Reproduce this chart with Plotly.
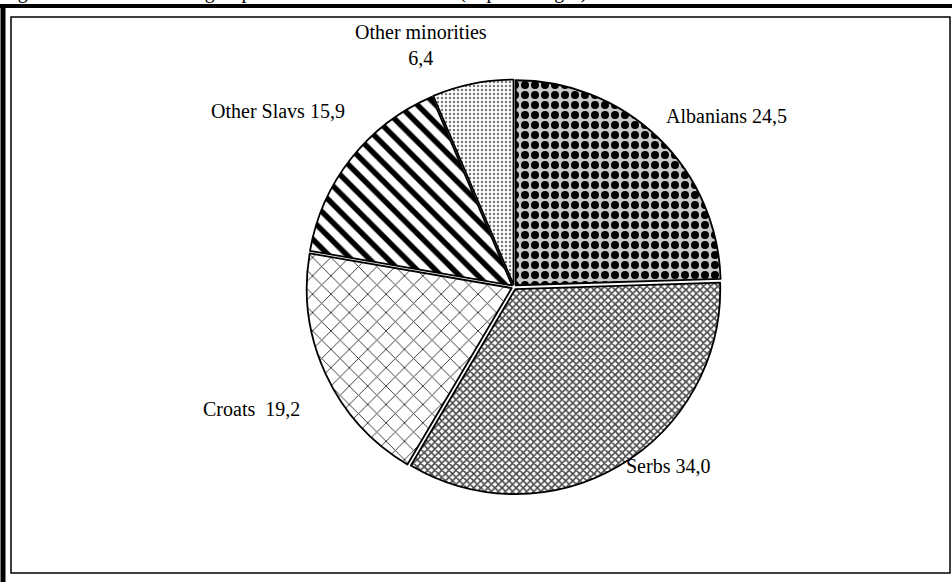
import plotly.graph_objects as go

# ---- data ----
groups = ["Albanians", "Serbs", "Croats", "Other Slavs", "Other minorities"]
shares = [24.5, 34.0, 19.2, 15.9, 6.4]
label_texts = ["Albanians 24,5", "Serbs 34,0", "Croats  19,2", "Other Slavs 15,9", "Other minorities<br>6,4"]
title_text = "Figure 1: Share of ethnic groups in the total resident mix (in percentages)"

# ---- styles ----
pattern_shapes = [".", "x", "x", "\\", "."]
pattern_fg = ["#000000", "#4a4a4a", "#333333", "#000000", "#7a7a7a"]
pattern_bg = ["#c8c8c8", "#ffffff", "#ffffff", "#ffffff", "#ffffff"]
pattern_size = [10, 5, 13, 13, 4]
pattern_solid = [0.5, 0.55, 0.14, 0.42, 0.3]

W, H = 952, 582
cx, cy, r = 514, 287, 205
pull = 0.012
rr = r * (1 + pull)

def px(x):
    return x / W

def py(y):
    return 1 - y / H

fig = go.Figure(go.Pie(
    labels=groups,
    values=shares,
    sort=False,
    direction="clockwise",
    rotation=0,
    pull=[pull] * len(groups),
    textinfo="none",
    hoverinfo="label+value",
    showlegend=False,
    marker=dict(
        colors=pattern_bg,
        line=dict(color="black", width=1.8),
        pattern=dict(shape=pattern_shapes, fgcolor=pattern_fg, bgcolor=pattern_bg,
                     size=pattern_size, solidity=pattern_solid, fillmode="replace"),
    ),
    domain=dict(x=[px(cx - rr), px(cx + rr)], y=[py(cy + rr), py(cy - rr)]),
))

font = dict(family="Liberation Serif, Times New Roman, serif", size=20, color="black")

# label anchor positions (pixels) for each group
label_pos = [(664, 116, "left"), (624, 466, "left"), (302, 409, "right"), (347, 111, "right"), (421, 45, "center")]
anns = []
for t, (x, y, a) in zip(label_texts, label_pos):
    anns.append(dict(x=px(x), y=py(y), xref="paper", yref="paper", text=t, showarrow=False,
                     xanchor=a, yanchor="middle", font=font, align="center"))
anns.append(dict(x=0.0, y=py(4), xref="paper", yref="paper", text=title_text, showarrow=False,
                 xanchor="left", yanchor="bottom", font=font, borderpad=0))

shapes = [
    # outer thick frame lines (top and left)
    dict(type="line", xref="paper", yref="paper", x0=0, x1=1, y0=py(6), y1=py(6),
         line=dict(color="black", width=4)),
    dict(type="line", xref="paper", yref="paper", x0=px(3), x1=px(3), y0=py(4), y1=0,
         line=dict(color="black", width=5)),
    # inner frame
    dict(type="rect", xref="paper", yref="paper", x0=px(11), x1=px(950), y0=py(573), y1=py(17),
         line=dict(color="black", width=1.5)),
]

fig.update_layout(
    width=W, height=H,
    margin=dict(l=0, r=0, t=0, b=0),
    paper_bgcolor="white", plot_bgcolor="white",
    separators=", ",
    annotations=anns,
    shapes=shapes,
)

fig.write_html("out.html", config={"displayModeBar": False},
               post_script="document.body.style.margin='0';document.body.style.overflow='hidden';")
